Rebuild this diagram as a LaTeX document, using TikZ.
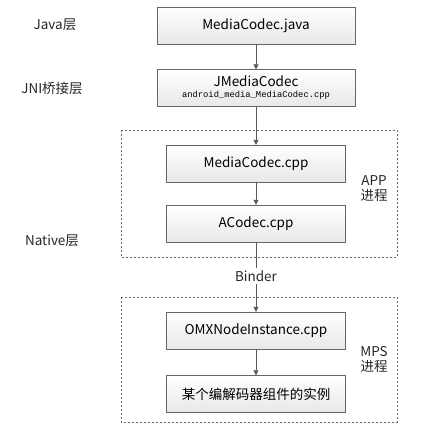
\documentclass[tikz,border=0pt]{standalone}
\usepackage{fontspec}
\setmainfont{Noto Sans CJK SC}
\newfontfamily\codemono{Liberation Mono}
\usetikzlibrary{arrows.meta,positioning}

\begin{document}
\begin{tikzpicture}[x=1pt, y=-1pt, font=\fontsize{13.5}{15}\selectfont,
    box/.style={draw=gray!80!black, top color=white, bottom color=gray!18,
      align=center, inner sep=0pt, minimum height=37pt},
    wide/.style={box, minimum width=198pt},
    inner/.style={box, minimum width=179pt},
    proc/.style={draw=gray!85!black, dash pattern=on 2pt off 2pt, line width=0.6pt},
    ar/.style={-{Triangle[length=5pt, width=5pt]}, draw=gray!70!black, line width=0.7pt},
    lbl/.style={align=center, text=black!85}]
  \useasboundingbox (0,0) rectangle (420,435);
  % process frames
  \draw[proc] (121,130) rectangle (397,257);
  \draw[proc] (121,297) rectangle (397,422);
  % boxes
  \node[wide] (java) at (256,25.5) {MediaCodec.java};
  \node[wide] (jni) at (256,88) {JMediaCodec\\[-4pt]{\codemono\fontsize{8.8}{9}\selectfont android\_media\_MediaCodec.cpp}};
  \node[inner] (mc) at (256,163.5) {MediaCodec.cpp};
  \node[inner] (ac) at (256,223.5) {ACodec.cpp};
  \node[inner] (omx) at (256,330.5) {OMXNodeInstance.cpp};
  \node[inner] (inst) at (256,394) {某个编解码器组件的实例};
  \node[lbl, inner sep=2pt] (binder) at (256,276) {Binder};
  % layer labels
  \node[lbl] (ljava) at (55,25) {Java层};
  \node[lbl] (ljni) at (52,88) {JNI桥接层};
  \node[lbl] (lnat) at (52,241) {Native层};
  \node[lbl, font=\fontsize{13.5}{15}\selectfont] (lapp) at (374,189) {APP\\进程};
  \node[lbl, font=\fontsize{13.5}{15}\selectfont] (lmps) at (374,359) {MPS\\进程};
  % calls
  \draw[ar] (java) -- (jni);
  \draw[ar] (jni) -- (mc);
  \draw[ar] (mc) -- (ac);
  \draw[draw=gray!70!black, line width=0.7pt] (ac) -- (binder);
  \draw[ar] (binder) -- (omx);
  \draw[ar] (omx) -- (inst);
\end{tikzpicture}
\end{document}
